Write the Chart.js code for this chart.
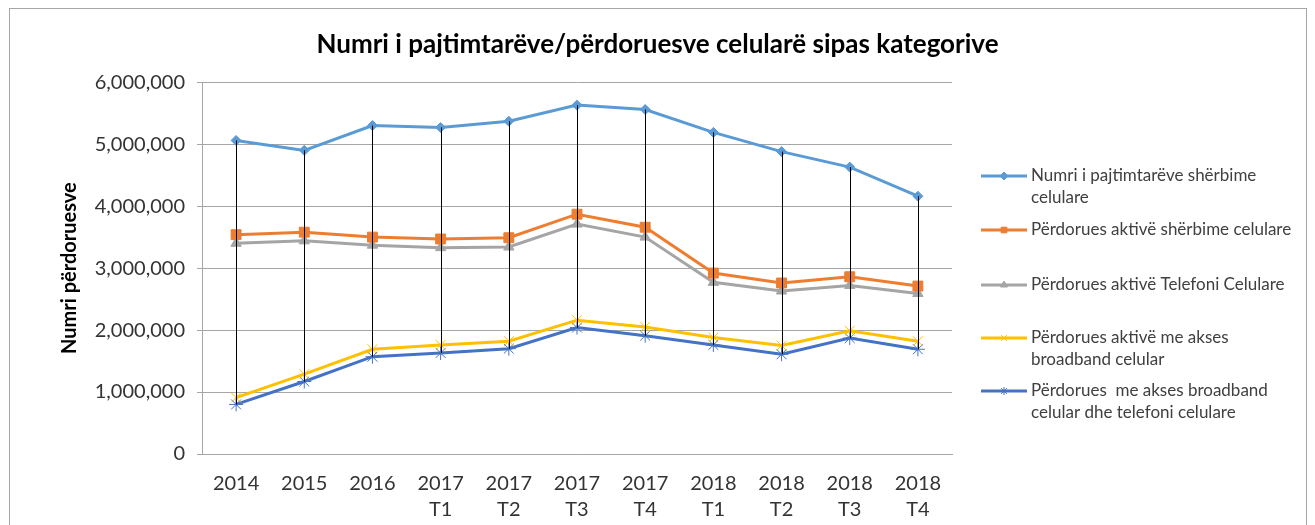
<!DOCTYPE html>
<html>
<head>
<meta charset="utf-8">
<script src="https://cdn.jsdelivr.net/npm/chart.js@4"></script>
<style>
body { margin: 0; background: #fff; }
#bingkai { position: absolute; left: 9px; top: 8px; width: 1296px; height: 540px; border: 1px solid #a6a6a6; }
#wadah { position: absolute; left: 0; top: 0; width: 1315px; height: 525px; }
</style>
</head>
<body>
<div id="bingkai"></div>
<div id="wadah"><canvas id="grafik"></canvas></div>
<script>
const kategori = [["2014"], ["2015"], ["2016"], ["2017", "T1"], ["2017", "T2"], ["2017", "T3"], ["2017", "T4"], ["2018", "T1"], ["2018", "T2"], ["2018", "T3"], ["2018", "T4"]];

const pajtimtare = [5060000, 4900000, 5300000, 5270000, 5370000, 5630000, 5560000, 5190000, 4880000, 4630000, 4160000];
const aktivSherbime = [3540000, 3580000, 3500000, 3470000, 3490000, 3870000, 3660000, 2920000, 2760000, 2860000, 2710000];
const aktivTelefoni = [3400000, 3440000, 3370000, 3330000, 3340000, 3710000, 3500000, 2770000, 2630000, 2720000, 2590000];
const aktivBroadband = [910000, 1290000, 1690000, 1760000, 1820000, 2160000, 2050000, 1880000, 1750000, 1990000, 1820000];
const broadbandTelefoni = [800000, 1170000, 1570000, 1630000, 1700000, 2040000, 1910000, 1760000, 1610000, 1870000, 1690000];

const namaSeri = [
    ["Numri i pajtimtarëve shërbime", "celulare"],
    ["Përdorues aktivë shërbime celulare"],
    ["Përdorues aktivë Telefoni Celulare"],
    ["Përdorues aktivë me akses", "broadband celular"],
    ["Përdorues  me akses broadband", "celular dhe telefoni celulare"]
];

const judul = "Numri i pajtimtarëve/përdoruesve celularë sipas kategorive";
const judulSumbuY = "Numri përdoruesve";
const fonUtama = "Lato, 'Open Sans', sans-serif";

// garis tinggi-rendah hitam di setiap kategori
const garisTinggiRendah = {
    id: "garisTinggiRendah",
    afterDatasetsDraw(chart) {
        const ctx = chart.ctx;
        const x = chart.scales.x;
        const y = chart.scales.y;
        ctx.save();
        ctx.strokeStyle = "#000";
        ctx.lineWidth = 1;
        chart.data.labels.forEach((_, i) => {
            const nilai = chart.data.datasets.map(d => d.data[i]);
            const px = Math.round(x.getPixelForValue(i)) + 0.5;
            ctx.beginPath();
            ctx.moveTo(px, y.getPixelForValue(Math.max(...nilai)));
            ctx.lineTo(px, y.getPixelForValue(Math.min(...nilai)));
            ctx.stroke();
        });
        ctx.restore();
    }
};

// legenda di sebelah kanan, teks bisa dua baris
const legendaKanan = {
    id: "legendaKanan",
    afterDraw(chart) {
        const ctx = chart.ctx;
        const kiri = chart.chartArea.right + 29;
        const jarakAntar = [0, 54, 55, 53, 53];
        let yPos = 176;
        ctx.save();
        ctx.font = "17px " + fonUtama;
        ctx.textBaseline = "middle";
        chart.data.datasets.forEach((ds, i) => {
            yPos += jarakAntar[i];
            ctx.strokeStyle = ds.borderColor;
            ctx.fillStyle = ds.borderColor;
            ctx.lineWidth = 3;
            ctx.beginPath();
            ctx.moveTo(kiri, yPos);
            ctx.lineTo(kiri + 46, yPos);
            ctx.stroke();
            ctx.lineWidth = 1;
            Chart.helpers.drawPoint(ctx, { pointStyle: ds.pointStyle, radius: 4, borderWidth: 1, rotation: 0 }, kiri + 23, yPos);
            ctx.fillStyle = "#404040";
            namaSeri[i].forEach((teks, j) => ctx.fillText(teks, kiri + 50, yPos + j * 22));
        });
        ctx.restore();
    }
};

function seri(data, warna, gaya, ukuran) {
    return {
        data: data,
        borderColor: warna,
        backgroundColor: warna,
        borderWidth: 3,
        pointStyle: gaya,
        pointRadius: ukuran,
        pointHoverRadius: ukuran,
        pointBorderWidth: 1,
        tension: 0
    };
}

const ctx = document.getElementById("grafik").getContext("2d");
new Chart(ctx, {
    type: "line",
    data: {
        labels: kategori,
        datasets: [
            seri(pajtimtare, "#5B9BD5", "rectRot", 5),
            seri(aktivSherbime, "#ED7D31", "rect", 7),
            seri(aktivTelefoni, "#A5A5A5", "triangle", 6),
            seri(aktivBroadband, "#FFC000", "crossRot", 7),
            seri(broadbandTelefoni, "#4472C4", "star", 7)
        ]
    },
    options: {
        responsive: true,
        maintainAspectRatio: false,
        animation: false,
        layout: { padding: 0 },
        plugins: {
            legend: { display: false },
            tooltip: { enabled: false },
            title: {
                display: true,
                text: judul,
                color: "#000",
                font: { family: fonUtama, size: 26, weight: "bold" },
                padding: { top: 29, bottom: 22 }
            }
        },
        scales: {
            x: {
                offset: true,
                grid: { display: false },
                border: { display: true, color: "#a6a6a6" },
                ticks: {
                    color: "#333",
                    font: { family: fonUtama, size: 20, lineHeight: 1.3 },
                    padding: 9,
                    maxRotation: 0,
                    autoSkip: false
                },
                afterFit: s => { s.height = 71; }
            },
            y: {
                min: 0,
                max: 6000000,
                ticks: {
                    stepSize: 1000000,
                    color: "#333",
                    font: { family: fonUtama, size: 20 },
                    padding: 12,
                    callback: v => v.toLocaleString("en-US")
                },
                grid: { color: "#a6a6a6", tickLength: 5 },
                border: { display: true, color: "#a6a6a6" },
                title: {
                    display: true,
                    text: judulSumbuY,
                    color: "#000",
                    font: { family: fonUtama, size: 20, weight: "bold" },
                    padding: { top: 58 }
                },
                afterFit: s => { s.width = 202; }
            },
            // ruang kosong untuk legenda di kanan
            ruangLegenda: {
                type: "linear",
                position: "right",
                display: true,
                ticks: { display: false },
                grid: { display: false },
                border: { display: false },
                afterFit: s => { s.width = 363; }
            }
        }
    },
    plugins: [garisTinggiRendah, legendaKanan]
});
</script>
</body>
</html>
